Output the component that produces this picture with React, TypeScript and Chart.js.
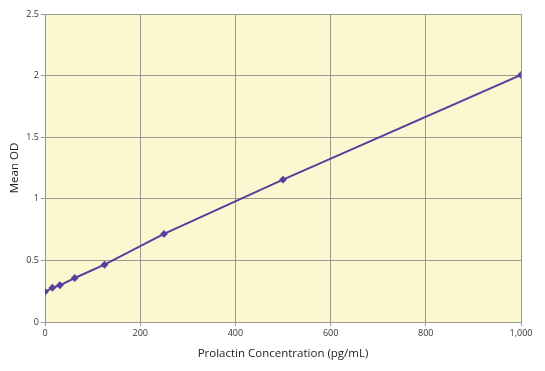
import React, { useEffect, useRef } from "react";
import { Chart, registerables } from "chart.js";

Chart.register(...registerables);

const concentrations = [0, 15.6, 31.25, 62.5, 125, 250, 500, 1000];
const meanOD = [0.245, 0.278, 0.298, 0.357, 0.465, 0.715, 1.155, 2.005];
const xTickMax = 1000;
const yTickMax = 2.5;

const bgPlugin = {
  id: "plotBg",
  beforeDraw(chart: any) {
    const { ctx, chartArea } = chart;
    ctx.save();
    ctx.fillStyle = "#fbf8d1";
    ctx.fillRect(chartArea.left, chartArea.top, chartArea.right - chartArea.left, chartArea.bottom - chartArea.top);
    ctx.restore();
  },
};

export default function App() {
  const ref = useRef<HTMLCanvasElement>(null);
  useEffect(() => {
    document.body.style.margin = "0";
    const chart = new Chart(ref.current!, {
      type: "scatter",
      data: {
        datasets: [
          {
            data: concentrations.map((x, i) => ({ x, y: meanOD[i] })),
            showLine: true,
            borderColor: "#5b3d9c",
            backgroundColor: "#5b3d9c",
            borderWidth: 2,
            pointStyle: "rectRot",
            pointRadius: 2.5,
          },
        ],
      },
      plugins: [bgPlugin],
      options: {
        animation: false,
        responsive: false,
        layout: { padding: { top: 14, right: 24, left: 4, bottom: 6 } },
        plugins: { legend: { display: false }, tooltip: { enabled: false } },
        scales: {
          x: {
            type: "linear",
            min: 0,
            max: xTickMax,
            ticks: { stepSize: 200, color: "#333", font: { family: "Open Sans", size: 9 }, padding: 2, maxRotation: 0 },
            grid: { color: "#9c9a8c", tickLength: 4 },
            border: { color: "#9c9a8c" },
            title: { display: true, text: "Prolactin Concentration (pg/mL)", color: "#222", font: { family: "Open Sans", size: 11.5 }, padding: { top: 8 } },
            afterFit(scale: any) { scale.height = 43; },
          },
          y: {
            min: 0,
            max: yTickMax,
            ticks: {
              stepSize: 0.5,
              color: "#333",
              font: { family: "Open Sans", size: 9 },
              padding: 2,
              callback: (v: any) => String(Number(v)),
            },
            grid: { color: "#9c9a8c", tickLength: 4 },
            border: { color: "#9c9a8c" },
            title: { display: true, text: "Mean OD", color: "#222", font: { family: "Open Sans", size: 11.5 }, padding: { bottom: 6 } },
            afterFit(scale: any) { scale.width = 41; },
          },
        },
      },
    });
    return () => chart.destroy();
  }, []);
  return (
    <div style={{ width: 545, height: 371 }}>
      <canvas ref={ref} width={545} height={371} />
    </div>
  );
}
